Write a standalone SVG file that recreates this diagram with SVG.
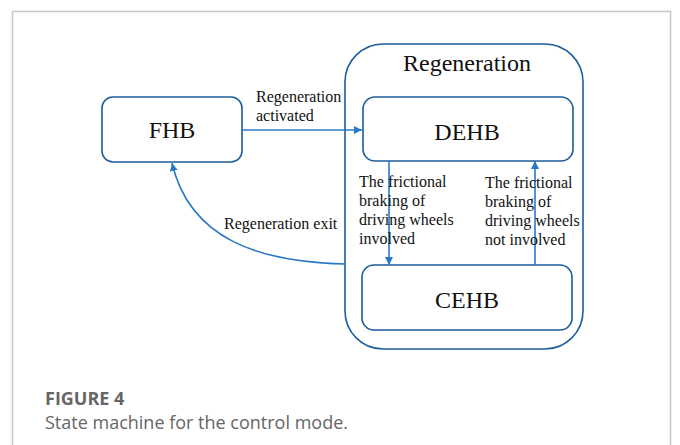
<svg xmlns="http://www.w3.org/2000/svg" width="680" height="445" viewBox="0 0 680 445">
<style>
.box{fill:#fff;stroke:#1d5c9b;stroke-width:1.6}
.con{fill:none;stroke:#2878c8;stroke-width:1.6}
.big{font-family:"Liberation Serif",serif;font-size:24px;fill:#111;text-anchor:middle}
.lbl{font-family:"Liberation Serif",serif;font-size:16px;fill:#111}
.cap{font-family:"Open Sans","Liberation Sans",sans-serif;font-size:18px;fill:#666}
</style>
<defs>
<marker id="ah" viewBox="0 0 10 10" refX="10" refY="5" markerWidth="8" markerHeight="8" markerUnits="userSpaceOnUse" orient="auto">
<path d="M0,0 L10,5 L0,10 z" fill="#2878c8"/>
</marker>
</defs>
<rect x="0" y="0" width="680" height="445" fill="#fff"/>
<rect x="12.5" y="11.5" width="658" height="460" fill="none" stroke="#c8c8c8" stroke-width="1.5"/>
<g id="regeneration">
<rect class="box" x="345" y="44" width="238" height="305" rx="38"/>
<text class="big" x="467" y="71">Regeneration</text>
</g>
<g id="fhb">
<rect class="box" x="102" y="97" width="140" height="65" rx="11"/>
<text class="big" x="172" y="138">FHB</text>
</g>
<g id="dehb">
<rect class="box" x="363" y="97" width="210" height="64" rx="12"/>
<text class="big" x="467" y="140">DEHB</text>
</g>
<g id="cehb">
<rect class="box" x="362" y="265" width="210" height="65" rx="12"/>
<text class="big" x="467" y="308">CEHB</text>
</g>
<g id="connectors">
<line class="con" x1="242" y1="130" x2="362" y2="130" marker-end="url(#ah)"/>
<line class="con" x1="389" y1="161" x2="389" y2="265" marker-end="url(#ah)"/>
<line class="con" x1="535" y1="265" x2="535" y2="161" marker-end="url(#ah)"/>
<path class="con" d="M345,264 C260,262 190,240 172,163" marker-end="url(#ah)"/>
</g>
<g id="labels">
<text class="lbl" x="256" y="102">Regeneration</text>
<text class="lbl" x="256" y="121">activated</text>
<text class="lbl" x="359" y="187">The frictional</text>
<text class="lbl" x="359" y="206">braking of</text>
<text class="lbl" x="359" y="225">driving wheels</text>
<text class="lbl" x="359" y="244">involved</text>
<text class="lbl" x="485" y="188">The frictional</text>
<text class="lbl" x="485" y="207">braking of</text>
<text class="lbl" x="485" y="226">driving wheels</text>
<text class="lbl" x="485" y="245">not involved</text>
<text class="lbl" x="224" y="229">Regeneration exit</text>
</g>
<text class="cap" x="45" y="405" font-weight="bold">FIGURE 4</text>
<text class="cap" x="45" y="429">State machine for the control mode.</text>
</svg>
